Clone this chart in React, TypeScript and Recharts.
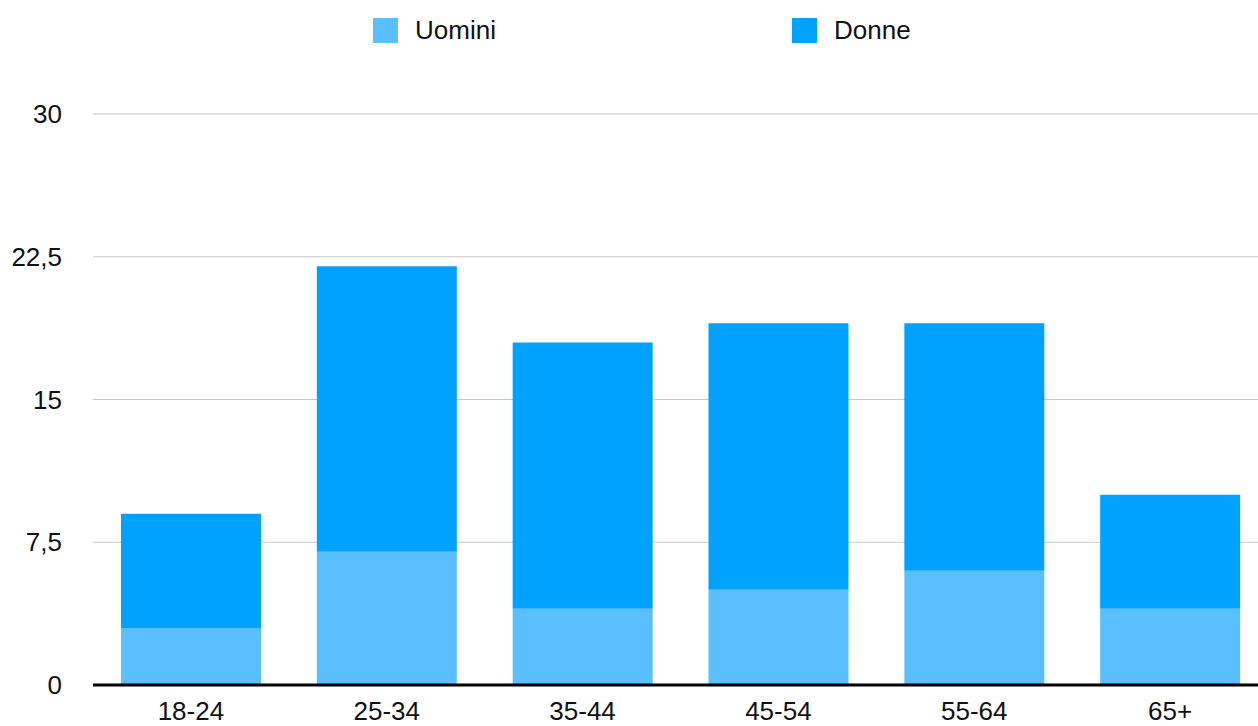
import React from 'react';
import { BarChart, Bar, XAxis, YAxis, CartesianGrid, Legend } from 'recharts';

// fasce d'età e valori
const categories = ['18-24', '25-34', '35-44', '45-54', '55-64', '65+'];
const seriesNames = ['Uomini', 'Donne'];
const uomini = [3, 7, 4, 5, 6, 4];
const donne = [6, 15, 14, 14, 13, 6];
const yTicks = [0, 7.5, 15, 22.5, 30];

const data = categories.map((fascia, i) => ({
  fascia,
  Uomini: uomini[i],
  Donne: donne[i]
}));

const FONT = '"Liberation Sans", Arial, Helvetica, sans-serif';

const LegendContent = ({ payload }: any) => {
  const items = [...(payload || [])].sort(
    (a: any, b: any) => seriesNames.indexOf(a.value) - seriesNames.indexOf(b.value)
  );
  return (
    <div style={{ height: 60, display: 'flex', paddingLeft: 373, fontFamily: FONT }}>
      {items.map((item: any) => (
        <div key={item.value} style={{ width: 419, display: 'flex', alignItems: 'center', height: 60 }}>
          <span style={{ width: 25, height: 25, background: item.color, marginRight: 17, display: 'inline-block' }} />
          <span style={{ fontSize: 26, color: '#111' }}>{item.value}</span>
        </div>
      ))}
    </div>
  );
};

export default function App() {
  return (
    <div style={{ position: 'absolute', top: 0, left: 0, width: 1258, height: 726, overflow: 'hidden', background: '#fff' }}>
      <BarChart
        width={1268}
        height={726}
        data={data}
        margin={{ top: 54, right: 0, bottom: 0, left: 0 }}
        barCategoryGap="14.3%"
      >
        <CartesianGrid vertical={false} stroke="#c8c8c8" strokeWidth={1} />
        <XAxis
          dataKey="fascia"
          height={41}
          tickLine={false}
          tickSize={6}
          tickMargin={11}
          axisLine={{ stroke: '#000', strokeWidth: 3 }}
          tick={{ fill: '#111', fontSize: 26, fontFamily: FONT }}
        />
        <YAxis
          width={93}
          domain={[0, 30]}
          ticks={yTicks}
          tickLine={false}
          axisLine={false}
          tickSize={6}
          tickMargin={25}
          tickFormatter={(v: number) => String(v).replace('.', ',')}
          tick={{ fill: '#111', fontSize: 26, fontFamily: FONT }}
        />
        <Legend verticalAlign="top" align="left" content={<LegendContent />} wrapperStyle={{ top: 0, left: 0 }} />
        {seriesNames.map((name, i) => (
          <Bar
            key={name}
            dataKey={name}
            stackId="a"
            fill={i === 0 ? '#59bfff' : '#00a2ff'}
            isAnimationActive={false}
          />
        ))}
      </BarChart>
    </div>
  );
}
